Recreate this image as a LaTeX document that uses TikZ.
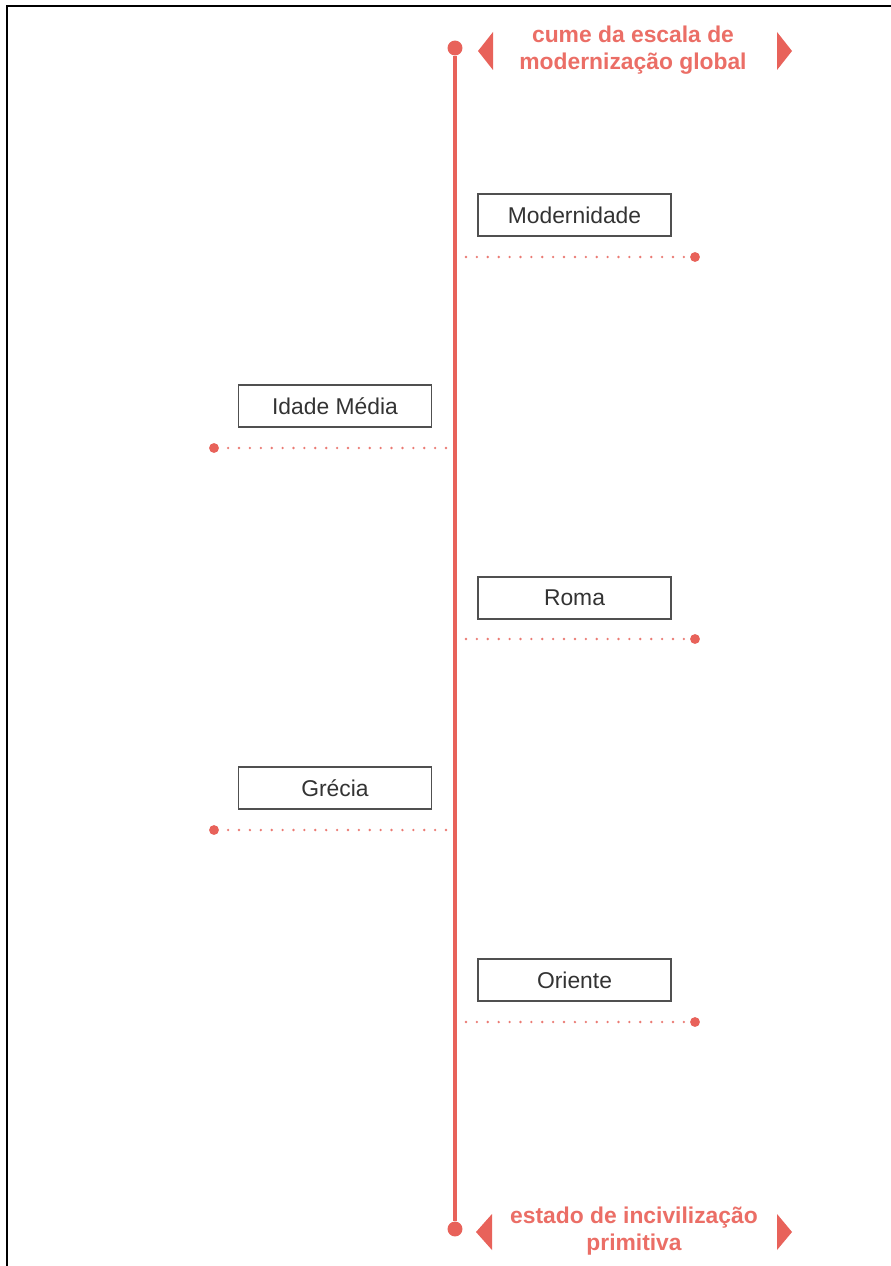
\documentclass[tikz,border=0pt]{standalone}
\usepackage{fontspec}
\setmainfont{Liberation Sans}
\usetikzlibrary{positioning}
\definecolor{axisred}{HTML}{E8625A}
\definecolor{labelred}{HTML}{EB6E66}
\definecolor{boxgray}{HTML}{505050}
\definecolor{textgray}{HTML}{333333}
\tikzset{
  era/.style={draw=boxgray, line width=1pt, text=textgray, minimum width=3.86cm,
    minimum height=0.84cm, inner sep=0pt, font=\fontsize{13}{15}\selectfont},
  endlabel/.style={text=labelred, align=center, inner sep=0pt,
    font=\bfseries\fontsize{13}{15}\selectfont},
  axisdot/.style={circle, fill=axisred, minimum size=8.5pt, inner sep=0pt},
  tickdot/.style={circle, fill=axisred, minimum size=5.6pt, inner sep=0pt},
  guide/.style={axisred!85, line width=1.5pt, line cap=round, dash pattern=on 0pt off 6.2pt},
  pointer/.style={fill=axisred}
}
\begin{document}
\begin{tikzpicture}[x=0.02cm, y=-0.02cm]
      \useasboundingbox (0,0) rectangle (891,1266);
      \fill[white] (0,0) rectangle (891,1266);
      \draw[black, line width=1.2pt] (7,1266) -- (7,6) -- (891,6);
      %%%%%%%%%%%%%%%%%%%%%%%%%%%%%%%%%%%%%%%%%%%%%%%
      \node[axisdot] at (455,48)   (top) {};
      \node[axisdot] at (455,1229) (bot) {};
      \draw[axisred, line width=2.4pt] (top) -- (bot);
      %%%%%%%%%%%%%%%%%%%%%%%%%%%%%%%%%%%%%%%%%%%%%%%
      \node[endlabel] at (633,50) (peak) {cume da escala de\\modernização global};
      \fill[pointer] (478,51) -- (493,32) -- (493,70) -- cycle;
      \fill[pointer] (792,51) -- (777,32) -- (777,70) -- cycle;
      \node[endlabel] at (634,1231) (base) {estado de incivilização\\primitiva};
      \fill[pointer] (476,1232) -- (492,1214) -- (492,1250) -- cycle;
      \fill[pointer] (792,1232) -- (777,1214) -- (777,1250) -- cycle;
      %%%%%%%%%%%%%%%%%%%%%%%%%%%%%%%%%%%%%%%%%%%%%%%
      \node[era] at (574.5,215) (mod) {Modernidade};
      \node[tickdot] at (695,257) (mod-d) {};
      \coordinate (mod-a) at (466,257);
      \draw[guide] (mod-a) -- (mod-d);
      %%%%%%%%%%%%%%%%%%%%%%%%%%%%%%%%%%%%%%%%%%%%%%%
      \node[era] at (335,406) (med) {Idade Média};
      \node[tickdot] at (214,448) (med-d) {};
      \coordinate (med-a) at (446,448);
      \draw[guide] (med-a) -- (med-d);
      %%%%%%%%%%%%%%%%%%%%%%%%%%%%%%%%%%%%%%%%%%%%%%%
      \node[era] at (574.5,598) (rom) {Roma};
      \node[tickdot] at (695,639) (rom-d) {};
      \coordinate (rom-a) at (466,639);
      \draw[guide] (rom-a) -- (rom-d);
      %%%%%%%%%%%%%%%%%%%%%%%%%%%%%%%%%%%%%%%%%%%%%%%
      \node[era] at (335,788) (gre) {Grécia};
      \node[tickdot] at (214,830) (gre-d) {};
      \coordinate (gre-a) at (446,830);
      \draw[guide] (gre-a) -- (gre-d);
      %%%%%%%%%%%%%%%%%%%%%%%%%%%%%%%%%%%%%%%%%%%%%%%
      \node[era] at (574.5,980) (ori) {Oriente};
      \node[tickdot] at (695,1022) (ori-d) {};
      \coordinate (ori-a) at (466,1022);
      \draw[guide] (ori-a) -- (ori-d);
      %%%%%%%%%%%%%%%%%%%%%%%%%%%%%%%%%%%%%%%%%%%%%%%
\end{tikzpicture}
\end{document}
